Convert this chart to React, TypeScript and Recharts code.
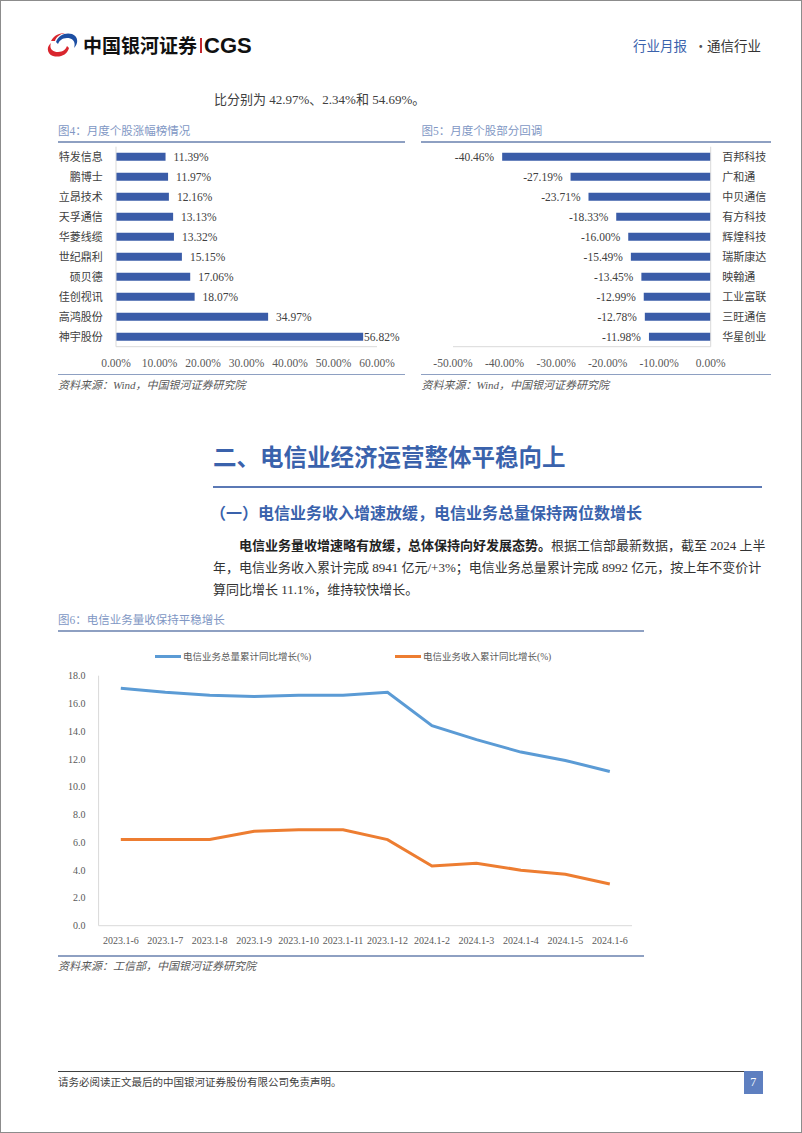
import { BarChart, Bar, LineChart, Line, XAxis, YAxis, LabelList, Legend } from 'recharts';

const serif = '"Liberation Serif", "Noto Sans CJK SC", serif';
const cjk = '"Noto Sans CJK SC", sans-serif';

// 图4 月度个股涨幅榜
const gainNames = ['特发信息', '鹏博士', '立昂技术', '天孚通信', '华菱线缆', '世纪鼎利', '硕贝德', '佳创视讯', '高鸿股份', '神宇股份'];
const gainValues = [11.39, 11.97, 12.16, 13.13, 13.32, 15.15, 17.06, 18.07, 34.97, 56.82];
const gainTicks = [0, 10, 20, 30, 40, 50, 60];

// 图5 月度个股部分回调
const dropNames = ['百邦科技', '广和通', '中贝通信', '有方科技', '辉煌科技', '瑞斯康达', '映翰通', '工业富联', '三旺通信', '华星创业'];
const dropValues = [-40.46, -27.19, -23.71, -18.33, -16.0, -15.49, -13.45, -12.99, -12.78, -11.98];
const dropTicks = [-50, -40, -30, -20, -10, 0];

// 图6 电信业务量收
const months = ['2023.1-6', '2023.1-7', '2023.1-8', '2023.1-9', '2023.1-10', '2023.1-11', '2023.1-12', '2024.1-2', '2024.1-3', '2024.1-4', '2024.1-5', '2024.1-6'];
const volumeGrowth = [17.1, 16.8, 16.6, 16.5, 16.6, 16.6, 16.8, 14.4, 13.4, 12.5, 11.9, 11.1];
const revenueGrowth = [6.2, 6.2, 6.2, 6.8, 6.9, 6.9, 6.2, 4.3, 4.5, 4.0, 3.7, 3.0];
const growthTicks = [0, 2, 4, 6, 8, 10, 12, 14, 16, 18];

const BAR = '#3a5ca8';
const BLUE = '#5b9bd5';
const ORANGE = '#ed7d31';
const AXIS = '#d9d9d9';
const HEAD = '#3a62ac';
const CAPTION = '#8197c4';
const RULE = '#8ea0c2';

const pct = (v: number) => `${v.toFixed(2)}%`;

const gainData = gainNames.map((name, i) => ({ name, value: gainValues[i] }));
const dropData = dropNames.map((name, i) => ({ name, value: dropValues[i] }));
const growthData = months.map((month, i) => ({ month, volume: volumeGrowth[i], revenue: revenueGrowth[i] }));

const box = (p: any) => (p.viewBox && p.viewBox.width !== undefined ? p.viewBox : p);

// labels sit just past the bar end; the longest one is pulled back inside the plot like Excel does
const gainLabel = (p: any) => {
  const vb = box(p);
  const end = Math.max(vb.x, vb.x + vb.width);
  return (
    <text x={Math.min(end + 8, 309)} y={vb.y + vb.height / 2} dy="0.35em" fontSize={11.5} fill="#404040" fontFamily={serif}>
      {pct(p.value)}
    </text>
  );
};

const dropLabel = (p: any) => {
  const vb = box(p);
  const start = Math.min(vb.x, vb.x + vb.width);
  return (
    <text x={start - 8} y={vb.y + vb.height / 2} dy="0.35em" textAnchor="end" fontSize={11.5} fill="#404040" fontFamily={serif}>
      {pct(p.value)}
    </text>
  );
};

const legendX = [100, 340];
const renderLegend = (props: any) => (
  <div style={{ position: 'relative', height: 16 }}>
    {(props.payload ?? []).map((item: any, i: number) => (
      <div key={item.value} style={{ position: 'absolute', left: legendX[i], top: 0, height: 16, display: 'flex', alignItems: 'center', fontSize: 9.5, color: '#595959', fontFamily: serif, whiteSpace: 'nowrap' }}>
        <span style={{ display: 'inline-block', width: 26, height: 3, background: item.color, marginRight: 2 }} />
        {item.value}
      </div>
    ))}
  </div>
);

function T({ x, y, size, children, style }: any) {
  return (
    <div style={{ position: 'absolute', left: x, top: y - size * 0.75, fontSize: size, lineHeight: `${size * 1.5}px`, whiteSpace: 'nowrap', ...style }}>
      {children}
    </div>
  );
}

function Rule({ x, y, w, h = 1.5, color = RULE }: any) {
  return <div style={{ position: 'absolute', left: x, top: y, width: w, height: h, background: color }} />;
}

function Logo() {
  return (
    <svg width={31} height={26} viewBox="0 0 31 26" style={{ position: 'absolute', left: 47, top: 32 }}>
      <path d="M9 10 C11 3 19 0 25 2 C31 4 32 11 27 16 C29 10 26 6 20 6 C15 6 12 9 11 12 Z" fill="#1d4fa3" />
      <path d="M4 9 C7 3 13 1 18 1 C13 2 9 5 8 9 Z" fill="#d9262e" />
      <path d="M22 16 C20 23 13 26 6 24 C0 22 -1 15 4 11 C2 16 5 20 11 20 C16 20 19 17 20 14 Z" fill="#d9262e" />
    </svg>
  );
}

export default function App() {
  return (
    <div style={{ position: 'absolute', left: 0, top: 0, width: 802, height: 1133, background: '#fff', fontFamily: serif, color: '#333', overflow: 'hidden' }}>
      <div style={{ position: 'absolute', inset: 0, border: '1px solid #8c8c8c' }} />

      {/* header */}
      <Logo />
      <T x={83} y={45} size={19} style={{ fontFamily: cjk, fontWeight: 700, color: '#111' }}>中国银河证券</T>
      <div style={{ position: 'absolute', left: 200, top: 38, width: 1.5, height: 15, background: '#c4262e' }} />
      <T x={204} y={45.5} size={22} style={{ fontFamily: '"Liberation Sans", Arial, sans-serif', fontWeight: 700, color: '#111' }}>CGS</T>
      <T x={633} y={45} size={13.5} style={{ fontFamily: cjk, color: HEAD }}>行业月报</T>
      <T x={694} y={45} size={13.5} style={{ fontFamily: cjk, color: '#555' }}>·</T>
      <T x={707} y={45} size={13.5} style={{ fontFamily: cjk, color: '#333' }}>通信行业</T>

      <T x={214} y={100} size={13} style={{ color: '#404040' }}>比分别为 42.97%、2.34%和 54.69%。</T>

      {/* 图4 */}
      <T x={58} y={131.5} size={11.5} style={{ color: CAPTION }}>图4：月度个股涨幅榜情况</T>
      <Rule x={58} y={141} w={347} />
      <div style={{ position: 'absolute', left: 55, top: 140 }}>
        <BarChart width={360} height={240} data={gainData} layout="vertical" margin={{ top: 6.7, right: 38, bottom: 9.3, left: 0 }}>
          <XAxis type="number" domain={[0, 60]} ticks={gainTicks} tickFormatter={pct} axisLine={{ stroke: AXIS }} tickLine={false} tickMargin={6.5} height={24} tick={{ fontSize: 11.5, fill: '#595959', fontFamily: serif }} />
          <YAxis type="category" dataKey="name" interval={0} width={61} axisLine={{ stroke: AXIS }} tickLine={false} tickMargin={7.3} tick={{ fontSize: 11, fill: '#404040', fontFamily: cjk }} />
          <Bar dataKey="value" fill={BAR} barSize={8} isAnimationActive={false}>
            <LabelList dataKey="value" content={gainLabel} />
          </Bar>
        </BarChart>
      </div>
      <Rule x={58} y={373.5} w={347} />
      <T x={58} y={385} size={11} style={{ color: '#595959', fontStyle: 'italic' }}>资料来源：Wind，中国银河证券研究院</T>

      {/* 图5 */}
      <T x={421.5} y={131.5} size={11.5} style={{ color: CAPTION }}>图5：月度个股部分回调</T>
      <Rule x={421} y={141} w={350} />
      <div style={{ position: 'absolute', left: 415, top: 140 }}>
        <BarChart width={360} height={240} data={dropData} layout="vertical" margin={{ top: 6.7, right: 0, bottom: 9.3, left: 38 }}>
          <XAxis type="number" domain={[-50, 0]} ticks={dropTicks} tickFormatter={pct} axisLine={{ stroke: AXIS }} tickLine={false} tickMargin={6.5} height={24} tick={{ fontSize: 11.5, fill: '#595959', fontFamily: serif }} />
          <YAxis type="category" dataKey="name" interval={0} orientation="right" width={64.3} axisLine={{ stroke: AXIS }} tickLine={false} tickMargin={5.6} tick={{ fontSize: 11, fill: '#404040', fontFamily: cjk }} />
          <Bar dataKey="value" fill={BAR} barSize={8} isAnimationActive={false}>
            <LabelList dataKey="value" content={dropLabel} />
          </Bar>
        </BarChart>
      </div>
      <Rule x={421} y={373.5} w={350} />
      <T x={421.5} y={385} size={11} style={{ color: '#595959', fontStyle: 'italic' }}>资料来源：Wind，中国银河证券研究院</T>

      {/* 正文 */}
      <T x={213} y={457} size={23.5} style={{ fontFamily: cjk, fontWeight: 700, color: HEAD }}>二、电信业经济运营整体平稳向上</T>
      <Rule x={213} y={486} w={549} color="#5b79b5" />
      <T x={210} y={512} size={16} style={{ fontFamily: cjk, fontWeight: 700, color: HEAD }}>（一）电信业务收入增速放缓，电信业务总量保持两位数增长</T>
      <T x={213} y={546} size={13} style={{ width: 547, textAlign: 'justify', textAlignLast: 'justify', textIndent: 26, color: '#333' }}>
        <b style={{ color: '#222' }}>电信业务量收增速略有放缓，总体保持向好发展态势。</b>根据工信部最新数据，截至 2024 上半
      </T>
      <T x={213} y={568} size={13} style={{ width: 547, textAlign: 'justify', textAlignLast: 'justify', color: '#333' }}>
        年，电信业务收入累计完成 8941 亿元/+3%；电信业务总量累计完成 8992 亿元，按上年不变价计
      </T>
      <T x={213} y={589.5} size={13} style={{ color: '#333' }}>算同比增长 11.1%，维持较快增长。</T>

      {/* 图6 */}
      <T x={58} y={620.5} size={11.5} style={{ color: CAPTION }}>图6：电信业务量收保持平稳增长</T>
      <Rule x={58} y={630} w={586} />
      <div style={{ position: 'absolute', left: 55, top: 640 }}>
        <LineChart width={600} height={320} data={growthData} margin={{ top: 35.7, right: 23, bottom: 10.3, left: 0 }}>
          <XAxis dataKey="month" interval={0} padding={{ left: 22.2, right: 22.2 }} axisLine={{ stroke: AXIS }} tickLine={false} tickMargin={4.7} height={24} tick={{ fontSize: 10, fill: '#595959', fontFamily: serif }} />
          <YAxis domain={[0, 18]} ticks={growthTicks} tickFormatter={(v: number) => v.toFixed(1)} width={43.6} axisLine={{ stroke: AXIS }} tickLine={false} tickMargin={7} tick={{ fontSize: 10, fill: '#595959', fontFamily: serif }} />
          <Legend verticalAlign="middle" align="center" layout="horizontal" wrapperStyle={{ top: 8, left: 0, width: 600, height: 16 }} content={renderLegend} />
          <Line dataKey="volume" name="电信业务总量累计同比增长(%)" stroke={BLUE} strokeWidth={3} dot={false} isAnimationActive={false} />
          <Line dataKey="revenue" name="电信业务收入累计同比增长(%)" stroke={ORANGE} strokeWidth={3} dot={false} isAnimationActive={false} />
        </LineChart>
      </div>
      <Rule x={58} y={955} w={586} />
      <T x={58} y={966} size={11} style={{ color: '#595959', fontStyle: 'italic' }}>资料来源：工信部，中国银河证券研究院</T>

      {/* footer */}
      <Rule x={58} y={1070.5} w={704} h={1.5} color="#404040" />
      <T x={58} y={1083} size={10.5} style={{ color: '#404040' }}>请务必阅读正文最后的中国银河证券股份有限公司免责声明。</T>
      <div style={{ position: 'absolute', left: 744, top: 1071, width: 18.5, height: 22.5, background: '#5e7fc0', color: '#fff', fontSize: 12, lineHeight: '22.5px', textAlign: 'center' }}>7</div>
    </div>
  );
}
